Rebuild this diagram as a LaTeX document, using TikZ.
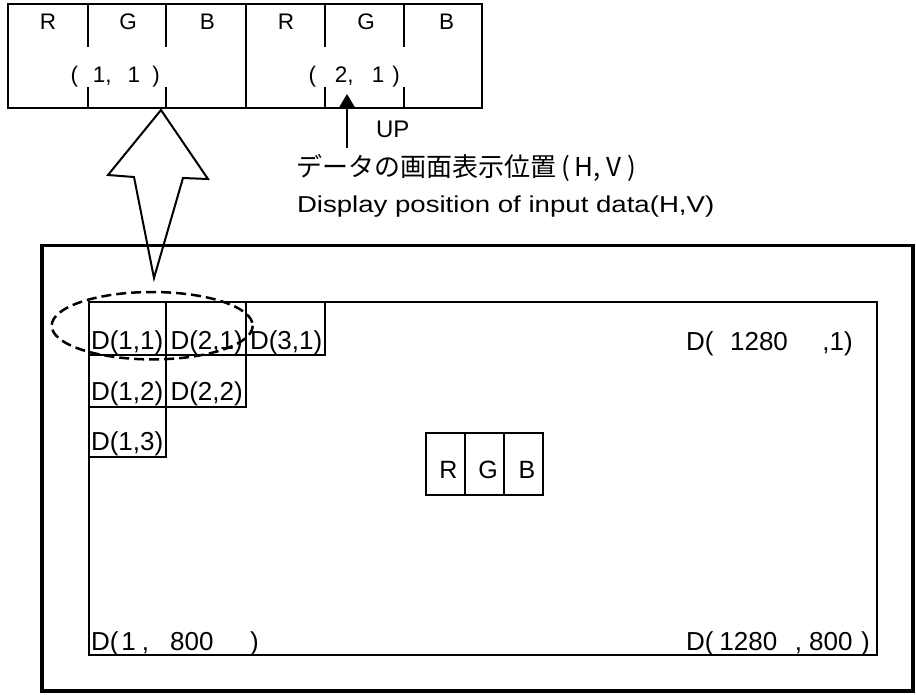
\documentclass[tikz,border=0pt]{standalone}
\usepackage{fontspec}
\usepackage{graphicx}
\setmainfont{Liberation Sans}
\newfontfamily\jpfont{Noto Sans CJK JP}
\usetikzlibrary{arrows.meta}
\begin{document}
\begin{tikzpicture}[x=1pt,y=-1pt,
  frame/.style={line width=3.5pt},
  innerframe/.style={line width=2.2pt},
  strip/.style={line width=2pt},
  cell/.style={line width=2pt},
  txt/.style={inner sep=0pt, outer sep=0pt},
  toplbl/.style={txt, anchor=base, font=\fontsize{22.5}{25}\selectfont},
  coordlbl/.style={txt, anchor=base west, font=\fontsize{22.5}{25}\selectfont},
  dlbl/.style={txt, anchor=base west, font=\fontsize{26}{30}\selectfont},
  rgblbl/.style={txt, anchor=base, font=\fontsize{25}{28}\selectfont},
  hollow/.style={line width=2pt, line join=miter},
  dashring/.style={line width=2.5pt, dash pattern=on 10pt off 5pt},
  uparrow/.style={line width=1.8pt, -{Triangle[length=13pt,width=15pt]}}
]
\useasboundingbox (0,0) rectangle (916,694);

% ---------- top strip ----------
\draw[strip] (7.8,3.8) rectangle (482,107.5);
\draw[strip] (245.5,3.8) -- (245.5,107.5);
\foreach \xx in {87.8,165.5,324.5,403.5}{
  \draw[strip] (\xx,3.8) -- (\xx,46.5);
  \draw[strip] (\xx,87.3) -- (\xx,107.5);
}
\node[toplbl] (r1) at (48,29.8) {R};
\node[toplbl] (g1) at (128,29.8) {G};
\node[toplbl] (b1) at (207.5,29.8) {B};
\node[toplbl] (r2) at (286,29.8) {R};
\node[toplbl] (g2) at (366,29.8) {G};
\node[toplbl] (b2) at (446.5,29.8) {B};
\node[coordlbl] (p11) at (70.5,82.5) {(\hspace{15pt}1,\hspace{16pt}1\hspace{12pt})};
\node[coordlbl] (p21) at (308.5,82.5) {(\hspace{19pt}2,\hspace{18pt}1\hspace{8pt})};

% ---------- UP arrow and captions ----------
\coordinate (upfoot) at (347,148);
\coordinate (uptip) at (347,94);
\draw[uparrow] (upfoot) -- (uptip);
\node[txt, anchor=base west, font=\fontsize{24}{28}\selectfont] (up) at (376,137) {UP};
\node[txt, anchor=west, font=\jpfont\fontsize{26}{30}\selectfont] (jp) at (296.5,168) {データの画面表示位置\hspace{5pt}(\hspace{4pt}H,\hspace{6pt}V\hspace{6pt})};
\node[txt, anchor=base west] (en) at (297,212.3) {\scalebox{1.2}[1]{\fontsize{23}{26}\selectfont Display position of input data(H,V)}};

% ---------- outer frame & screen ----------
\draw[frame] (42,245.7) rectangle (913,691);
\draw[innerframe] (88.7,302) rectangle (877.3,655);

% ---------- hollow arrow ----------
\draw[hollow] (161,110) -- (208,179) -- (183,178) -- (154,278) -- (134,177) -- (108,175) -- cycle;

% ---------- pixel cells ----------
\draw[cell] (324.5,302) -- (324.5,354.5) -- (88.7,354.5);
\draw[cell] (246,302) -- (246,407.2) -- (88.7,407.2);
\draw[cell] (166.2,302) -- (166.2,456.8) -- (88.7,456.8);
\node[dlbl] (d11) at (91,349.3) {D(1,1)};
\node[dlbl] (d21) at (170.5,349.3) {D(2,1)};
\node[dlbl] (d31) at (250,349.3) {D(3,1)};
\node[dlbl] (d12) at (91,400) {D(1,2)};
\node[dlbl] (d22) at (170.5,400) {D(2,2)};
\node[dlbl] (d13) at (91,450) {D(1,3)};

% ---------- dashed ellipse ----------
\draw[dashring] (152.2,325.7) ellipse [x radius=100.5, y radius=33.7];

% ---------- corner labels ----------
\node[dlbl] (dtr) at (686,350) {D(\hspace{16.7pt}1280\hspace{34.5pt},1)};
\node[dlbl] (dbl) at (91,650) {D(\hspace{3pt}1\hspace{6pt},\hspace{21pt}800\hspace{36.6pt})};
\node[dlbl] (dbr) at (686,650) {D(\hspace{6pt}1280\hspace{17.7pt},\hspace{7pt}800\hspace{8.6pt})};

% ---------- RGB box ----------
\draw[cell] (426,432.8) rectangle (542.8,494.5);
\draw[cell] (464.5,432.8) -- (464.5,494.5);
\draw[cell] (503.5,432.8) -- (503.5,494.5);
\node[rgblbl] (rr) at (448.3,478.3) {R};
\node[rgblbl] (rg) at (488,478.3) {G};
\node[rgblbl] (rb) at (527,478.3) {B};
\end{tikzpicture}
\end{document}
